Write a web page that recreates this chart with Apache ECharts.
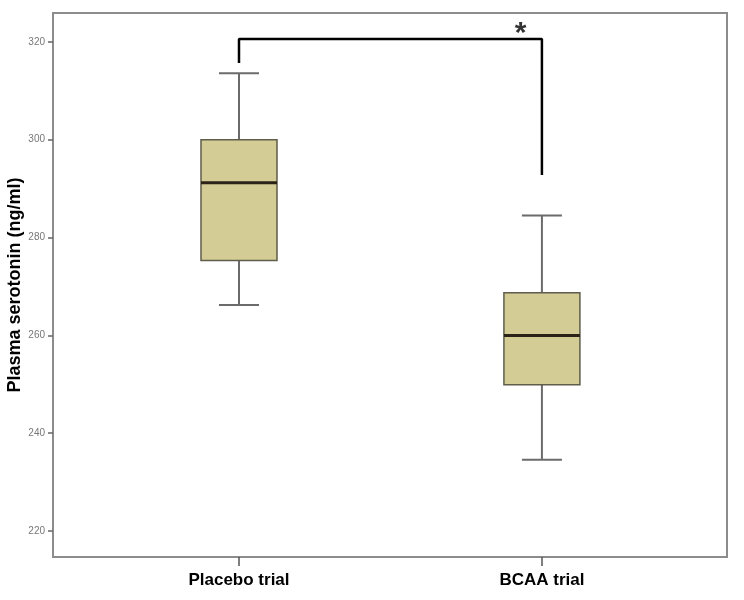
<!DOCTYPE html>
<html>
<head>
<meta charset="utf-8">
<script src="https://cdn.jsdelivr.net/npm/echarts@6/dist/echarts.min.js"></script>
<style>
  html, body { margin: 0; padding: 0; background: #fff; }
  #main { width: 744px; height: 600px; }
</style>
</head>
<body>
<div id="main"></div>
<script>
// groups on the x axis (placed at x = 0 and x = 1)
const categories = ['Placebo trial', 'BCAA trial'];
const categoryPos = [0, 1];

// box statistics (ng/ml)
const whiskerMin = [266.2, 234.6];
const q1 = [275.3, 249.9];
const median = [291.2, 260.0];
const q3 = [300.0, 268.7];
const whiskerMax = [313.6, 284.5];

const yTicks = [220, 240, 260, 280, 300, 320];

// significance bracket between the two groups
const bracketX = [0, 0, 1, 1];
const bracketY = [315.7, 320.6, 320.6, 292.8];
const starPos = [0.93, 322.9];

const boxData = categoryPos.map((x, i) => [x, whiskerMin[i], q1[i], median[i], q3[i], whiskerMax[i]]);
const bracketData = bracketX.map((x, i) => [x, bracketY[i]]);

const chart = echarts.init(document.getElementById('main'));

function renderBox (params, api) {
  const x = api.value(0);
  const pMin = api.coord([x, api.value(1)]);
  const pQ1 = api.coord([x, api.value(2)]);
  const pMed = api.coord([x, api.value(3)]);
  const pQ3 = api.coord([x, api.value(4)]);
  const pMax = api.coord([x, api.value(5)]);
  const halfBox = 38;
  const halfCap = 20;
  const whisker = { stroke: '#6b6b6b', lineWidth: 2 };
  return {
    type: 'group',
    children: [
      { type: 'line', shape: { x1: pMax[0], y1: pMax[1], x2: pQ3[0], y2: pQ3[1] }, style: whisker },
      { type: 'line', shape: { x1: pMin[0], y1: pMin[1], x2: pQ1[0], y2: pQ1[1] }, style: whisker },
      { type: 'line', shape: { x1: pMax[0] - halfCap, y1: pMax[1], x2: pMax[0] + halfCap, y2: pMax[1] }, style: whisker },
      { type: 'line', shape: { x1: pMin[0] - halfCap, y1: pMin[1], x2: pMin[0] + halfCap, y2: pMin[1] }, style: whisker },
      {
        type: 'rect',
        shape: { x: pQ3[0] - halfBox, y: pQ3[1], width: halfBox * 2, height: pQ1[1] - pQ3[1] },
        style: { fill: '#d4cc95', stroke: '#5f5d4b', lineWidth: 1.5 }
      },
      { type: 'line', shape: { x1: pMed[0] - halfBox, y1: pMed[1], x2: pMed[0] + halfBox, y2: pMed[1] }, style: { stroke: '#2b2318', lineWidth: 3 } }
    ]
  };
}

const option = {
  animation: false,
  textStyle: { fontFamily: 'Liberation Sans, Arial, sans-serif' },
  grid: {
    left: 53,
    right: 17,
    top: 13,
    bottom: 43,
    outerBoundsMode: 'none',
    show: true,
    borderColor: '#8c8c8c',
    borderWidth: 2
  },
  xAxis: {
    type: 'value',
    min: -0.614,
    max: 1.611,
    splitLine: { show: false },
    axisLine: { show: false, onZero: false },
    axisTick: { show: true, customValues: categoryPos, length: 9, lineStyle: { color: '#555', width: 1.5 } },
    axisLabel: {
      customValues: categoryPos,
      formatter: v => categories[Math.round(v)],
      fontSize: 17,
      fontWeight: 'bold',
      color: '#000',
      margin: 15
    }
  },
  yAxis: {
    type: 'value',
    min: 214.7,
    max: 325.9,
    name: 'Plasma serotonin (ng/ml)',
    nameLocation: 'middle',
    nameGap: 29,
    nameMoveOverlap: false,
    nameTextStyle: { fontSize: 18, fontWeight: 'bold', color: '#000' },
    splitLine: { show: false },
    axisLine: { show: false, onZero: false },
    axisTick: { show: true, customValues: yTicks, length: 5, lineStyle: { color: '#666', width: 1.5 } },
    axisLabel: { customValues: yTicks, fontSize: 10, color: '#777', margin: 8 }
  },
  series: [
    {
      type: 'custom',
      renderItem: renderBox,
      encode: { x: 0, y: [1, 2, 3, 4, 5] },
      data: boxData,
      z: 3
    },
    {
      type: 'line',
      data: bracketData,
      symbol: 'none',
      lineStyle: { color: '#000', width: 2.5 },
      z: 4
    },
    {
      type: 'scatter',
      data: [starPos],
      symbolSize: 0,
      label: {
        show: true,
        position: 'inside',
        formatter: '*',
        fontSize: 30,
        fontWeight: 'bold',
        color: '#000',
        offset: [0, 6]
      },
      z: 5
    }
  ]
};

chart.setOption(option);
</script>
</body>
</html>
